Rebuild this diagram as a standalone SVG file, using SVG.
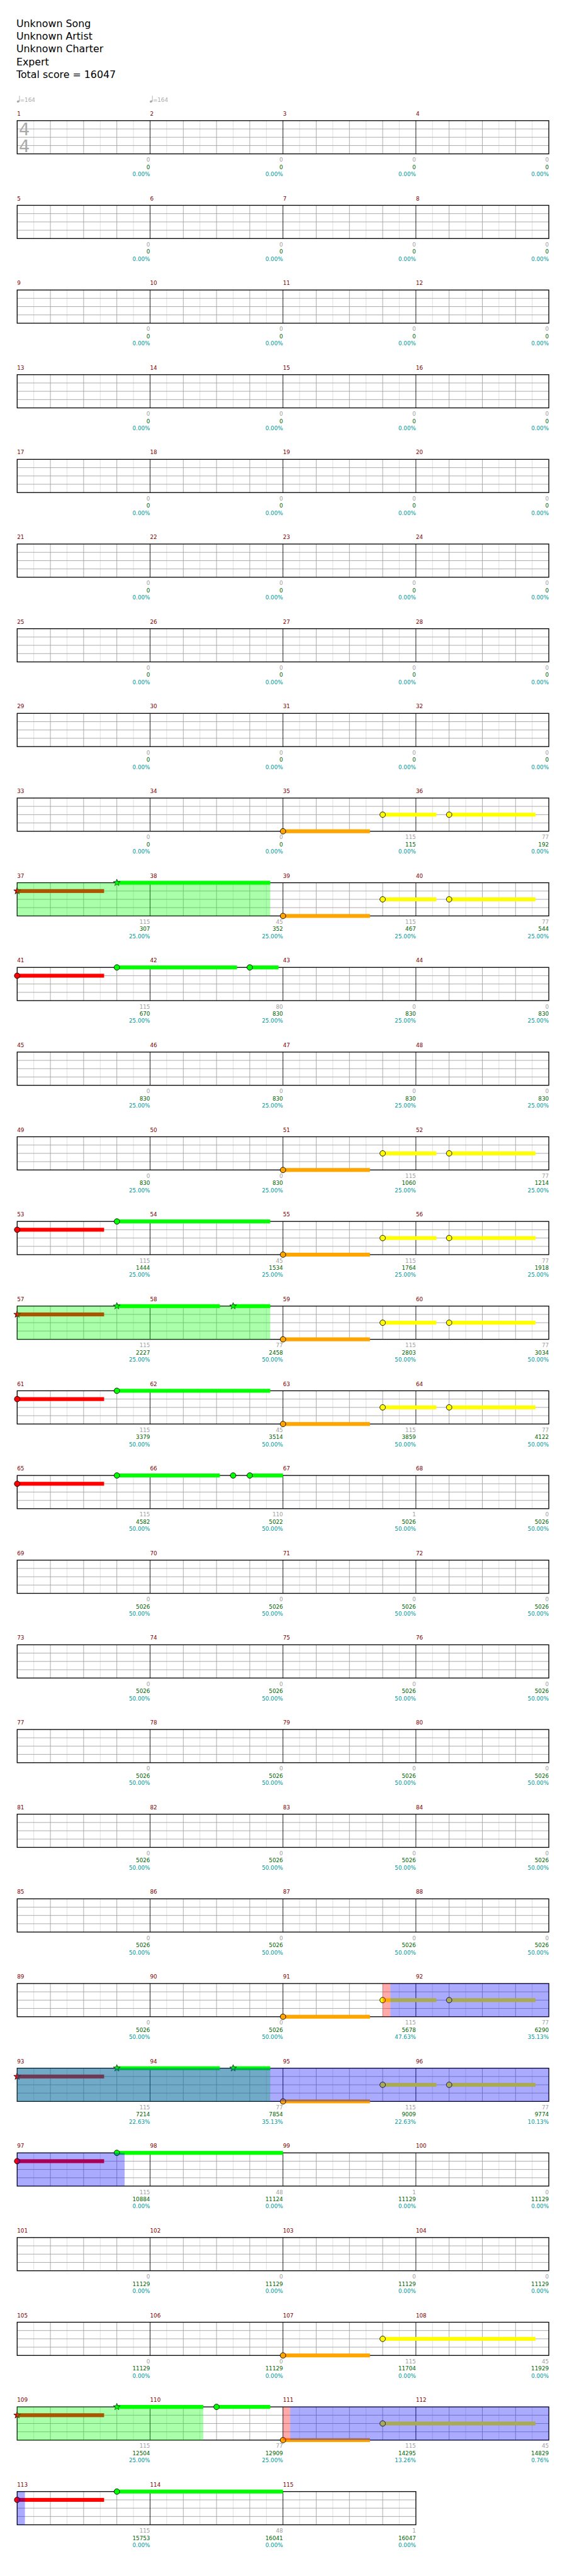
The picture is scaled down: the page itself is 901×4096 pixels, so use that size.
<svg xmlns="http://www.w3.org/2000/svg" width="901" height="4096" viewBox="0 0 901 4096">
<style>
text{font-family:"DejaVu Sans","Liberation Sans",sans-serif}
.t{font-size:18px;fill:#000}
.mn{font-size:10px;fill:#800000}
.tp{font-size:10px;fill:#aaaaaa}
.ts{font-size:31px;fill:#aaaaaa}
.sc{font-size:10px;text-anchor:end}
.a{fill:#a0a0a0}.b{fill:#006400}.c{fill:#009999}
.n{stroke:#000;stroke-width:1}
.g{fill:#00ff00}.r{fill:#ff0000}.y{fill:#ffff00}.o{fill:#ffa500}
.ovg{fill:#00ff00;fill-opacity:.333}.ovb{fill:#0000ff;fill-opacity:.333}.ovr{fill:#ff0000;fill-opacity:.333}
</style>
<defs>
<g id="st4" fill="none">
<path d="M30 0V60M90 0V60M150 0V60M210 0V60M270 0V60M330 0V60M390 0V60M450 0V60M510 0V60M570 0V60M630 0V60M690 0V60M750 0V60M810 0V60M870 0V60M930 0V60" stroke="#dcdcdc"/>
<path d="M0 15H960M0 30H960M0 45H960M60 0V60M120 0V60M180 0V60M300 0V60M360 0V60M420 0V60M540 0V60M600 0V60M660 0V60M780 0V60M840 0V60M900 0V60" stroke="#a0a0a0"/>
<path d="M240 0V60M480 0V60M720 0V60" stroke="#000"/>
<rect width="960" height="60" stroke="#000" stroke-width="1.5"/>
</g>
<g id="st3" fill="none">
<path d="M30 0V60M90 0V60M150 0V60M210 0V60M270 0V60M330 0V60M390 0V60M450 0V60M510 0V60M570 0V60M630 0V60M690 0V60" stroke="#dcdcdc"/>
<path d="M0 15H720M0 30H720M0 45H720M60 0V60M120 0V60M180 0V60M300 0V60M360 0V60M420 0V60M540 0V60M600 0V60M660 0V60" stroke="#a0a0a0"/>
<path d="M240 0V60M480 0V60" stroke="#000"/>
<rect width="720" height="60" stroke="#000" stroke-width="1.5"/>
</g>
<polygon id="star" points="0,-6.5 1.53,-2.1 6.18,-2.01 2.47,0.8 3.82,5.26 0,2.6 -3.82,5.26 -2.47,0.8 -6.18,-2.01 -1.53,-2.1" stroke="#000" stroke-width="0.8"/>
</defs>
<rect width="901" height="4096" fill="#fff"/>
<g transform="scale(0.88)">
<g id="header">
<text class="t" x="29.5" y="48.7">Unknown Song</text>
<text class="t" x="29.5" y="71.7">Unknown Artist</text>
<text class="t" x="29.5" y="94.7">Unknown Charter</text>
<text class="t" x="29.5" y="117.7">Expert</text>
<text class="t" x="29.5" y="140.7">Total score = 16047</text>
</g>

<g id="row1" transform="translate(0,218)">
<g id="tempo1"><ellipse cx="32.8" cy="-34.7" rx="2.6" ry="1.9" fill="#aaa" transform="rotate(-20 32.8 -34.7)"/><path d="M35.2 -45V-35" stroke="#aaa"/><text class="tp" x="36" y="-34">=164</text></g>
<g id="tempo2"><ellipse cx="272.8" cy="-34.7" rx="2.6" ry="1.9" fill="#aaa" transform="rotate(-20 272.8 -34.7)"/><path d="M275.2 -45V-35" stroke="#aaa"/><text class="tp" x="276" y="-34">=164</text></g>
<text class="mn" x="31" y="-9">1</text><text class="mn" x="271" y="-9">2</text><text class="mn" x="511" y="-9">3</text><text class="mn" x="751" y="-9">4</text>
<use href="#st4" x="31"/>
<text class="ts" x="34" y="26">4</text><text class="ts" x="34" y="56.7">4</text>
<text class="sc" x="271"><tspan class="a" y="74.3">0</tspan><tspan class="b" x="271" y="87.3">0</tspan><tspan class="c" x="271" y="100.3">0.00%</tspan></text>
<text class="sc" x="511"><tspan class="a" y="74.3">0</tspan><tspan class="b" x="511" y="87.3">0</tspan><tspan class="c" x="511" y="100.3">0.00%</tspan></text>
<text class="sc" x="751"><tspan class="a" y="74.3">0</tspan><tspan class="b" x="751" y="87.3">0</tspan><tspan class="c" x="751" y="100.3">0.00%</tspan></text>
<text class="sc" x="991"><tspan class="a" y="74.3">0</tspan><tspan class="b" x="991" y="87.3">0</tspan><tspan class="c" x="991" y="100.3">0.00%</tspan></text>
</g>

<g id="row2" transform="translate(0,371)">
<text class="mn" x="31" y="-9">5</text><text class="mn" x="271" y="-9">6</text><text class="mn" x="511" y="-9">7</text><text class="mn" x="751" y="-9">8</text>
<use href="#st4" x="31"/>
<text class="sc" x="271"><tspan class="a" y="74.3">0</tspan><tspan class="b" x="271" y="87.3">0</tspan><tspan class="c" x="271" y="100.3">0.00%</tspan></text>
<text class="sc" x="511"><tspan class="a" y="74.3">0</tspan><tspan class="b" x="511" y="87.3">0</tspan><tspan class="c" x="511" y="100.3">0.00%</tspan></text>
<text class="sc" x="751"><tspan class="a" y="74.3">0</tspan><tspan class="b" x="751" y="87.3">0</tspan><tspan class="c" x="751" y="100.3">0.00%</tspan></text>
<text class="sc" x="991"><tspan class="a" y="74.3">0</tspan><tspan class="b" x="991" y="87.3">0</tspan><tspan class="c" x="991" y="100.3">0.00%</tspan></text>
</g>

<g id="row3" transform="translate(0,524)">
<text class="mn" x="31" y="-9">9</text><text class="mn" x="271" y="-9">10</text><text class="mn" x="511" y="-9">11</text><text class="mn" x="751" y="-9">12</text>
<use href="#st4" x="31"/>
<text class="sc" x="271"><tspan class="a" y="74.3">0</tspan><tspan class="b" x="271" y="87.3">0</tspan><tspan class="c" x="271" y="100.3">0.00%</tspan></text>
<text class="sc" x="511"><tspan class="a" y="74.3">0</tspan><tspan class="b" x="511" y="87.3">0</tspan><tspan class="c" x="511" y="100.3">0.00%</tspan></text>
<text class="sc" x="751"><tspan class="a" y="74.3">0</tspan><tspan class="b" x="751" y="87.3">0</tspan><tspan class="c" x="751" y="100.3">0.00%</tspan></text>
<text class="sc" x="991"><tspan class="a" y="74.3">0</tspan><tspan class="b" x="991" y="87.3">0</tspan><tspan class="c" x="991" y="100.3">0.00%</tspan></text>
</g>

<g id="row4" transform="translate(0,677)">
<text class="mn" x="31" y="-9">13</text><text class="mn" x="271" y="-9">14</text><text class="mn" x="511" y="-9">15</text><text class="mn" x="751" y="-9">16</text>
<use href="#st4" x="31"/>
<text class="sc" x="271"><tspan class="a" y="74.3">0</tspan><tspan class="b" x="271" y="87.3">0</tspan><tspan class="c" x="271" y="100.3">0.00%</tspan></text>
<text class="sc" x="511"><tspan class="a" y="74.3">0</tspan><tspan class="b" x="511" y="87.3">0</tspan><tspan class="c" x="511" y="100.3">0.00%</tspan></text>
<text class="sc" x="751"><tspan class="a" y="74.3">0</tspan><tspan class="b" x="751" y="87.3">0</tspan><tspan class="c" x="751" y="100.3">0.00%</tspan></text>
<text class="sc" x="991"><tspan class="a" y="74.3">0</tspan><tspan class="b" x="991" y="87.3">0</tspan><tspan class="c" x="991" y="100.3">0.00%</tspan></text>
</g>

<g id="row5" transform="translate(0,830)">
<text class="mn" x="31" y="-9">17</text><text class="mn" x="271" y="-9">18</text><text class="mn" x="511" y="-9">19</text><text class="mn" x="751" y="-9">20</text>
<use href="#st4" x="31"/>
<text class="sc" x="271"><tspan class="a" y="74.3">0</tspan><tspan class="b" x="271" y="87.3">0</tspan><tspan class="c" x="271" y="100.3">0.00%</tspan></text>
<text class="sc" x="511"><tspan class="a" y="74.3">0</tspan><tspan class="b" x="511" y="87.3">0</tspan><tspan class="c" x="511" y="100.3">0.00%</tspan></text>
<text class="sc" x="751"><tspan class="a" y="74.3">0</tspan><tspan class="b" x="751" y="87.3">0</tspan><tspan class="c" x="751" y="100.3">0.00%</tspan></text>
<text class="sc" x="991"><tspan class="a" y="74.3">0</tspan><tspan class="b" x="991" y="87.3">0</tspan><tspan class="c" x="991" y="100.3">0.00%</tspan></text>
</g>

<g id="row6" transform="translate(0,983)">
<text class="mn" x="31" y="-9">21</text><text class="mn" x="271" y="-9">22</text><text class="mn" x="511" y="-9">23</text><text class="mn" x="751" y="-9">24</text>
<use href="#st4" x="31"/>
<text class="sc" x="271"><tspan class="a" y="74.3">0</tspan><tspan class="b" x="271" y="87.3">0</tspan><tspan class="c" x="271" y="100.3">0.00%</tspan></text>
<text class="sc" x="511"><tspan class="a" y="74.3">0</tspan><tspan class="b" x="511" y="87.3">0</tspan><tspan class="c" x="511" y="100.3">0.00%</tspan></text>
<text class="sc" x="751"><tspan class="a" y="74.3">0</tspan><tspan class="b" x="751" y="87.3">0</tspan><tspan class="c" x="751" y="100.3">0.00%</tspan></text>
<text class="sc" x="991"><tspan class="a" y="74.3">0</tspan><tspan class="b" x="991" y="87.3">0</tspan><tspan class="c" x="991" y="100.3">0.00%</tspan></text>
</g>

<g id="row7" transform="translate(0,1136)">
<text class="mn" x="31" y="-9">25</text><text class="mn" x="271" y="-9">26</text><text class="mn" x="511" y="-9">27</text><text class="mn" x="751" y="-9">28</text>
<use href="#st4" x="31"/>
<text class="sc" x="271"><tspan class="a" y="74.3">0</tspan><tspan class="b" x="271" y="87.3">0</tspan><tspan class="c" x="271" y="100.3">0.00%</tspan></text>
<text class="sc" x="511"><tspan class="a" y="74.3">0</tspan><tspan class="b" x="511" y="87.3">0</tspan><tspan class="c" x="511" y="100.3">0.00%</tspan></text>
<text class="sc" x="751"><tspan class="a" y="74.3">0</tspan><tspan class="b" x="751" y="87.3">0</tspan><tspan class="c" x="751" y="100.3">0.00%</tspan></text>
<text class="sc" x="991"><tspan class="a" y="74.3">0</tspan><tspan class="b" x="991" y="87.3">0</tspan><tspan class="c" x="991" y="100.3">0.00%</tspan></text>
</g>

<g id="row8" transform="translate(0,1289)">
<text class="mn" x="31" y="-9">29</text><text class="mn" x="271" y="-9">30</text><text class="mn" x="511" y="-9">31</text><text class="mn" x="751" y="-9">32</text>
<use href="#st4" x="31"/>
<text class="sc" x="271"><tspan class="a" y="74.3">0</tspan><tspan class="b" x="271" y="87.3">0</tspan><tspan class="c" x="271" y="100.3">0.00%</tspan></text>
<text class="sc" x="511"><tspan class="a" y="74.3">0</tspan><tspan class="b" x="511" y="87.3">0</tspan><tspan class="c" x="511" y="100.3">0.00%</tspan></text>
<text class="sc" x="751"><tspan class="a" y="74.3">0</tspan><tspan class="b" x="751" y="87.3">0</tspan><tspan class="c" x="751" y="100.3">0.00%</tspan></text>
<text class="sc" x="991"><tspan class="a" y="74.3">0</tspan><tspan class="b" x="991" y="87.3">0</tspan><tspan class="c" x="991" y="100.3">0.00%</tspan></text>
</g>

<g id="row9" transform="translate(0,1442)">
<text class="mn" x="31" y="-9">33</text><text class="mn" x="271" y="-9">34</text><text class="mn" x="511" y="-9">35</text><text class="mn" x="751" y="-9">36</text>
<use href="#st4" x="31"/>
<rect class="o" x="511" y="56.5" width="157" height="7"/><rect class="y" x="691" y="26.5" width="97" height="7"/><rect class="y" x="811" y="26.5" width="156" height="7"/>
<circle class="n o" cx="511" cy="60" r="5"/><circle class="n y" cx="691" cy="30" r="5"/><circle class="n y" cx="811" cy="30" r="5"/>
<text class="sc" x="271"><tspan class="a" y="74.3">0</tspan><tspan class="b" x="271" y="87.3">0</tspan><tspan class="c" x="271" y="100.3">0.00%</tspan></text>
<text class="sc" x="511"><tspan class="a" y="74.3">0</tspan><tspan class="b" x="511" y="87.3">0</tspan><tspan class="c" x="511" y="100.3">0.00%</tspan></text>
<text class="sc" x="751"><tspan class="a" y="74.3">115</tspan><tspan class="b" x="751" y="87.3">115</tspan><tspan class="c" x="751" y="100.3">0.00%</tspan></text>
<text class="sc" x="991"><tspan class="a" y="74.3">77</tspan><tspan class="b" x="991" y="87.3">192</tspan><tspan class="c" x="991" y="100.3">0.00%</tspan></text>
</g>

<g id="row10" transform="translate(0,1595)">
<text class="mn" x="31" y="-9">37</text><text class="mn" x="271" y="-9">38</text><text class="mn" x="511" y="-9">39</text><text class="mn" x="751" y="-9">40</text>
<use href="#st4" x="31"/>
<rect class="r" x="31" y="11.5" width="157" height="7"/><rect class="g" x="211" y="-3.5" width="277" height="7"/>
<use href="#star" class="r" x="31" y="15"/><use href="#star" class="g" x="211" y="0"/>
<rect class="o" x="511" y="56.5" width="157" height="7"/><rect class="y" x="691" y="26.5" width="97" height="7"/><rect class="y" x="811" y="26.5" width="156" height="7"/>
<circle class="n o" cx="511" cy="60" r="5"/><circle class="n y" cx="691" cy="30" r="5"/><circle class="n y" cx="811" cy="30" r="5"/>
<rect class="ovg" x="31" y="0" width="457" height="60"/>
<text class="sc" x="271"><tspan class="a" y="74.3">115</tspan><tspan class="b" x="271" y="87.3">307</tspan><tspan class="c" x="271" y="100.3">25.00%</tspan></text>
<text class="sc" x="511"><tspan class="a" y="74.3">45</tspan><tspan class="b" x="511" y="87.3">352</tspan><tspan class="c" x="511" y="100.3">25.00%</tspan></text>
<text class="sc" x="751"><tspan class="a" y="74.3">115</tspan><tspan class="b" x="751" y="87.3">467</tspan><tspan class="c" x="751" y="100.3">25.00%</tspan></text>
<text class="sc" x="991"><tspan class="a" y="74.3">77</tspan><tspan class="b" x="991" y="87.3">544</tspan><tspan class="c" x="991" y="100.3">25.00%</tspan></text>
</g>

<g id="row11" transform="translate(0,1748)">
<text class="mn" x="31" y="-9">41</text><text class="mn" x="271" y="-9">42</text><text class="mn" x="511" y="-9">43</text><text class="mn" x="751" y="-9">44</text>
<use href="#st4" x="31"/>
<rect class="r" x="31" y="11.5" width="157" height="7"/><rect class="g" x="211" y="-3.5" width="217" height="7"/><rect class="g" x="451" y="-3.5" width="52" height="7"/>
<circle class="n r" cx="31" cy="15" r="5"/><circle class="n g" cx="211" cy="0" r="5"/><circle class="n g" cx="451" cy="0" r="5"/>
<text class="sc" x="271"><tspan class="a" y="74.3">115</tspan><tspan class="b" x="271" y="87.3">670</tspan><tspan class="c" x="271" y="100.3">25.00%</tspan></text>
<text class="sc" x="511"><tspan class="a" y="74.3">80</tspan><tspan class="b" x="511" y="87.3">830</tspan><tspan class="c" x="511" y="100.3">25.00%</tspan></text>
<text class="sc" x="751"><tspan class="a" y="74.3">0</tspan><tspan class="b" x="751" y="87.3">830</tspan><tspan class="c" x="751" y="100.3">25.00%</tspan></text>
<text class="sc" x="991"><tspan class="a" y="74.3">0</tspan><tspan class="b" x="991" y="87.3">830</tspan><tspan class="c" x="991" y="100.3">25.00%</tspan></text>
</g>

<g id="row12" transform="translate(0,1901)">
<text class="mn" x="31" y="-9">45</text><text class="mn" x="271" y="-9">46</text><text class="mn" x="511" y="-9">47</text><text class="mn" x="751" y="-9">48</text>
<use href="#st4" x="31"/>
<text class="sc" x="271"><tspan class="a" y="74.3">0</tspan><tspan class="b" x="271" y="87.3">830</tspan><tspan class="c" x="271" y="100.3">25.00%</tspan></text>
<text class="sc" x="511"><tspan class="a" y="74.3">0</tspan><tspan class="b" x="511" y="87.3">830</tspan><tspan class="c" x="511" y="100.3">25.00%</tspan></text>
<text class="sc" x="751"><tspan class="a" y="74.3">0</tspan><tspan class="b" x="751" y="87.3">830</tspan><tspan class="c" x="751" y="100.3">25.00%</tspan></text>
<text class="sc" x="991"><tspan class="a" y="74.3">0</tspan><tspan class="b" x="991" y="87.3">830</tspan><tspan class="c" x="991" y="100.3">25.00%</tspan></text>
</g>

<g id="row13" transform="translate(0,2054)">
<text class="mn" x="31" y="-9">49</text><text class="mn" x="271" y="-9">50</text><text class="mn" x="511" y="-9">51</text><text class="mn" x="751" y="-9">52</text>
<use href="#st4" x="31"/>
<rect class="o" x="511" y="56.5" width="157" height="7"/><rect class="y" x="691" y="26.5" width="97" height="7"/><rect class="y" x="811" y="26.5" width="156" height="7"/>
<circle class="n o" cx="511" cy="60" r="5"/><circle class="n y" cx="691" cy="30" r="5"/><circle class="n y" cx="811" cy="30" r="5"/>
<text class="sc" x="271"><tspan class="a" y="74.3">0</tspan><tspan class="b" x="271" y="87.3">830</tspan><tspan class="c" x="271" y="100.3">25.00%</tspan></text>
<text class="sc" x="511"><tspan class="a" y="74.3">0</tspan><tspan class="b" x="511" y="87.3">830</tspan><tspan class="c" x="511" y="100.3">25.00%</tspan></text>
<text class="sc" x="751"><tspan class="a" y="74.3">115</tspan><tspan class="b" x="751" y="87.3">1060</tspan><tspan class="c" x="751" y="100.3">25.00%</tspan></text>
<text class="sc" x="991"><tspan class="a" y="74.3">77</tspan><tspan class="b" x="991" y="87.3">1214</tspan><tspan class="c" x="991" y="100.3">25.00%</tspan></text>
</g>

<g id="row14" transform="translate(0,2207)">
<text class="mn" x="31" y="-9">53</text><text class="mn" x="271" y="-9">54</text><text class="mn" x="511" y="-9">55</text><text class="mn" x="751" y="-9">56</text>
<use href="#st4" x="31"/>
<rect class="r" x="31" y="11.5" width="157" height="7"/><rect class="g" x="211" y="-3.5" width="277" height="7"/>
<circle class="n r" cx="31" cy="15" r="5"/><circle class="n g" cx="211" cy="0" r="5"/>
<rect class="o" x="511" y="56.5" width="157" height="7"/><rect class="y" x="691" y="26.5" width="97" height="7"/><rect class="y" x="811" y="26.5" width="156" height="7"/>
<circle class="n o" cx="511" cy="60" r="5"/><circle class="n y" cx="691" cy="30" r="5"/><circle class="n y" cx="811" cy="30" r="5"/>
<text class="sc" x="271"><tspan class="a" y="74.3">115</tspan><tspan class="b" x="271" y="87.3">1444</tspan><tspan class="c" x="271" y="100.3">25.00%</tspan></text>
<text class="sc" x="511"><tspan class="a" y="74.3">45</tspan><tspan class="b" x="511" y="87.3">1534</tspan><tspan class="c" x="511" y="100.3">25.00%</tspan></text>
<text class="sc" x="751"><tspan class="a" y="74.3">115</tspan><tspan class="b" x="751" y="87.3">1764</tspan><tspan class="c" x="751" y="100.3">25.00%</tspan></text>
<text class="sc" x="991"><tspan class="a" y="74.3">77</tspan><tspan class="b" x="991" y="87.3">1918</tspan><tspan class="c" x="991" y="100.3">25.00%</tspan></text>
</g>

<g id="row15" transform="translate(0,2360)">
<text class="mn" x="31" y="-9">57</text><text class="mn" x="271" y="-9">58</text><text class="mn" x="511" y="-9">59</text><text class="mn" x="751" y="-9">60</text>
<use href="#st4" x="31"/>
<rect class="r" x="31" y="11.5" width="157" height="7"/><rect class="g" x="211" y="-3.5" width="186" height="7"/><rect class="g" x="421" y="-3.5" width="67" height="7"/>
<use href="#star" class="r" x="31" y="15"/><use href="#star" class="g" x="211" y="0"/><use href="#star" class="g" x="421" y="0"/>
<rect class="o" x="511" y="56.5" width="157" height="7"/><rect class="y" x="691" y="26.5" width="97" height="7"/><rect class="y" x="811" y="26.5" width="156" height="7"/>
<circle class="n o" cx="511" cy="60" r="5"/><circle class="n y" cx="691" cy="30" r="5"/><circle class="n y" cx="811" cy="30" r="5"/>
<rect class="ovg" x="31" y="0" width="457" height="60"/>
<text class="sc" x="271"><tspan class="a" y="74.3">115</tspan><tspan class="b" x="271" y="87.3">2227</tspan><tspan class="c" x="271" y="100.3">25.00%</tspan></text>
<text class="sc" x="511"><tspan class="a" y="74.3">77</tspan><tspan class="b" x="511" y="87.3">2458</tspan><tspan class="c" x="511" y="100.3">50.00%</tspan></text>
<text class="sc" x="751"><tspan class="a" y="74.3">115</tspan><tspan class="b" x="751" y="87.3">2803</tspan><tspan class="c" x="751" y="100.3">50.00%</tspan></text>
<text class="sc" x="991"><tspan class="a" y="74.3">77</tspan><tspan class="b" x="991" y="87.3">3034</tspan><tspan class="c" x="991" y="100.3">50.00%</tspan></text>
</g>

<g id="row16" transform="translate(0,2513)">
<text class="mn" x="31" y="-9">61</text><text class="mn" x="271" y="-9">62</text><text class="mn" x="511" y="-9">63</text><text class="mn" x="751" y="-9">64</text>
<use href="#st4" x="31"/>
<rect class="r" x="31" y="11.5" width="157" height="7"/><rect class="g" x="211" y="-3.5" width="277" height="7"/>
<circle class="n r" cx="31" cy="15" r="5"/><circle class="n g" cx="211" cy="0" r="5"/>
<rect class="o" x="511" y="56.5" width="157" height="7"/><rect class="y" x="691" y="26.5" width="97" height="7"/><rect class="y" x="811" y="26.5" width="156" height="7"/>
<circle class="n o" cx="511" cy="60" r="5"/><circle class="n y" cx="691" cy="30" r="5"/><circle class="n y" cx="811" cy="30" r="5"/>
<text class="sc" x="271"><tspan class="a" y="74.3">115</tspan><tspan class="b" x="271" y="87.3">3379</tspan><tspan class="c" x="271" y="100.3">50.00%</tspan></text>
<text class="sc" x="511"><tspan class="a" y="74.3">45</tspan><tspan class="b" x="511" y="87.3">3514</tspan><tspan class="c" x="511" y="100.3">50.00%</tspan></text>
<text class="sc" x="751"><tspan class="a" y="74.3">115</tspan><tspan class="b" x="751" y="87.3">3859</tspan><tspan class="c" x="751" y="100.3">50.00%</tspan></text>
<text class="sc" x="991"><tspan class="a" y="74.3">77</tspan><tspan class="b" x="991" y="87.3">4122</tspan><tspan class="c" x="991" y="100.3">50.00%</tspan></text>
</g>

<g id="row17" transform="translate(0,2666)">
<text class="mn" x="31" y="-9">65</text><text class="mn" x="271" y="-9">66</text><text class="mn" x="511" y="-9">67</text><text class="mn" x="751" y="-9">68</text>
<use href="#st4" x="31"/>
<rect class="r" x="31" y="11.5" width="157" height="7"/><rect class="g" x="211" y="-3.5" width="186" height="7"/><rect class="g" x="451" y="-3.5" width="60" height="7"/>
<circle class="n r" cx="31" cy="15" r="5"/><circle class="n g" cx="211" cy="0" r="5"/><circle class="n g" cx="421" cy="0" r="5"/><circle class="n g" cx="451" cy="0" r="5"/>
<text class="sc" x="271"><tspan class="a" y="74.3">115</tspan><tspan class="b" x="271" y="87.3">4582</tspan><tspan class="c" x="271" y="100.3">50.00%</tspan></text>
<text class="sc" x="511"><tspan class="a" y="74.3">110</tspan><tspan class="b" x="511" y="87.3">5022</tspan><tspan class="c" x="511" y="100.3">50.00%</tspan></text>
<text class="sc" x="751"><tspan class="a" y="74.3">1</tspan><tspan class="b" x="751" y="87.3">5026</tspan><tspan class="c" x="751" y="100.3">50.00%</tspan></text>
<text class="sc" x="991"><tspan class="a" y="74.3">0</tspan><tspan class="b" x="991" y="87.3">5026</tspan><tspan class="c" x="991" y="100.3">50.00%</tspan></text>
</g>

<g id="row18" transform="translate(0,2819)">
<text class="mn" x="31" y="-9">69</text><text class="mn" x="271" y="-9">70</text><text class="mn" x="511" y="-9">71</text><text class="mn" x="751" y="-9">72</text>
<use href="#st4" x="31"/>
<text class="sc" x="271"><tspan class="a" y="74.3">0</tspan><tspan class="b" x="271" y="87.3">5026</tspan><tspan class="c" x="271" y="100.3">50.00%</tspan></text>
<text class="sc" x="511"><tspan class="a" y="74.3">0</tspan><tspan class="b" x="511" y="87.3">5026</tspan><tspan class="c" x="511" y="100.3">50.00%</tspan></text>
<text class="sc" x="751"><tspan class="a" y="74.3">0</tspan><tspan class="b" x="751" y="87.3">5026</tspan><tspan class="c" x="751" y="100.3">50.00%</tspan></text>
<text class="sc" x="991"><tspan class="a" y="74.3">0</tspan><tspan class="b" x="991" y="87.3">5026</tspan><tspan class="c" x="991" y="100.3">50.00%</tspan></text>
</g>

<g id="row19" transform="translate(0,2972)">
<text class="mn" x="31" y="-9">73</text><text class="mn" x="271" y="-9">74</text><text class="mn" x="511" y="-9">75</text><text class="mn" x="751" y="-9">76</text>
<use href="#st4" x="31"/>
<text class="sc" x="271"><tspan class="a" y="74.3">0</tspan><tspan class="b" x="271" y="87.3">5026</tspan><tspan class="c" x="271" y="100.3">50.00%</tspan></text>
<text class="sc" x="511"><tspan class="a" y="74.3">0</tspan><tspan class="b" x="511" y="87.3">5026</tspan><tspan class="c" x="511" y="100.3">50.00%</tspan></text>
<text class="sc" x="751"><tspan class="a" y="74.3">0</tspan><tspan class="b" x="751" y="87.3">5026</tspan><tspan class="c" x="751" y="100.3">50.00%</tspan></text>
<text class="sc" x="991"><tspan class="a" y="74.3">0</tspan><tspan class="b" x="991" y="87.3">5026</tspan><tspan class="c" x="991" y="100.3">50.00%</tspan></text>
</g>

<g id="row20" transform="translate(0,3125)">
<text class="mn" x="31" y="-9">77</text><text class="mn" x="271" y="-9">78</text><text class="mn" x="511" y="-9">79</text><text class="mn" x="751" y="-9">80</text>
<use href="#st4" x="31"/>
<text class="sc" x="271"><tspan class="a" y="74.3">0</tspan><tspan class="b" x="271" y="87.3">5026</tspan><tspan class="c" x="271" y="100.3">50.00%</tspan></text>
<text class="sc" x="511"><tspan class="a" y="74.3">0</tspan><tspan class="b" x="511" y="87.3">5026</tspan><tspan class="c" x="511" y="100.3">50.00%</tspan></text>
<text class="sc" x="751"><tspan class="a" y="74.3">0</tspan><tspan class="b" x="751" y="87.3">5026</tspan><tspan class="c" x="751" y="100.3">50.00%</tspan></text>
<text class="sc" x="991"><tspan class="a" y="74.3">0</tspan><tspan class="b" x="991" y="87.3">5026</tspan><tspan class="c" x="991" y="100.3">50.00%</tspan></text>
</g>

<g id="row21" transform="translate(0,3278)">
<text class="mn" x="31" y="-9">81</text><text class="mn" x="271" y="-9">82</text><text class="mn" x="511" y="-9">83</text><text class="mn" x="751" y="-9">84</text>
<use href="#st4" x="31"/>
<text class="sc" x="271"><tspan class="a" y="74.3">0</tspan><tspan class="b" x="271" y="87.3">5026</tspan><tspan class="c" x="271" y="100.3">50.00%</tspan></text>
<text class="sc" x="511"><tspan class="a" y="74.3">0</tspan><tspan class="b" x="511" y="87.3">5026</tspan><tspan class="c" x="511" y="100.3">50.00%</tspan></text>
<text class="sc" x="751"><tspan class="a" y="74.3">0</tspan><tspan class="b" x="751" y="87.3">5026</tspan><tspan class="c" x="751" y="100.3">50.00%</tspan></text>
<text class="sc" x="991"><tspan class="a" y="74.3">0</tspan><tspan class="b" x="991" y="87.3">5026</tspan><tspan class="c" x="991" y="100.3">50.00%</tspan></text>
</g>

<g id="row22" transform="translate(0,3431)">
<text class="mn" x="31" y="-9">85</text><text class="mn" x="271" y="-9">86</text><text class="mn" x="511" y="-9">87</text><text class="mn" x="751" y="-9">88</text>
<use href="#st4" x="31"/>
<text class="sc" x="271"><tspan class="a" y="74.3">0</tspan><tspan class="b" x="271" y="87.3">5026</tspan><tspan class="c" x="271" y="100.3">50.00%</tspan></text>
<text class="sc" x="511"><tspan class="a" y="74.3">0</tspan><tspan class="b" x="511" y="87.3">5026</tspan><tspan class="c" x="511" y="100.3">50.00%</tspan></text>
<text class="sc" x="751"><tspan class="a" y="74.3">0</tspan><tspan class="b" x="751" y="87.3">5026</tspan><tspan class="c" x="751" y="100.3">50.00%</tspan></text>
<text class="sc" x="991"><tspan class="a" y="74.3">0</tspan><tspan class="b" x="991" y="87.3">5026</tspan><tspan class="c" x="991" y="100.3">50.00%</tspan></text>
</g>

<g id="row23" transform="translate(0,3584)">
<text class="mn" x="31" y="-9">89</text><text class="mn" x="271" y="-9">90</text><text class="mn" x="511" y="-9">91</text><text class="mn" x="751" y="-9">92</text>
<use href="#st4" x="31"/>
<rect class="o" x="511" y="56.5" width="157" height="7"/><rect class="y" x="691" y="26.5" width="97" height="7"/><rect class="y" x="811" y="26.5" width="156" height="7"/>
<circle class="n o" cx="511" cy="60" r="5"/><circle class="n y" cx="691" cy="30" r="5"/><circle class="n y" cx="811" cy="30" r="5"/>
<rect class="ovr" x="691" y="0" width="14" height="60"/><rect class="ovb" x="705" y="0" width="286" height="60"/>
<text class="sc" x="271"><tspan class="a" y="74.3">0</tspan><tspan class="b" x="271" y="87.3">5026</tspan><tspan class="c" x="271" y="100.3">50.00%</tspan></text>
<text class="sc" x="511"><tspan class="a" y="74.3">0</tspan><tspan class="b" x="511" y="87.3">5026</tspan><tspan class="c" x="511" y="100.3">50.00%</tspan></text>
<text class="sc" x="751"><tspan class="a" y="74.3">115</tspan><tspan class="b" x="751" y="87.3">5678</tspan><tspan class="c" x="751" y="100.3">47.63%</tspan></text>
<text class="sc" x="991"><tspan class="a" y="74.3">77</tspan><tspan class="b" x="991" y="87.3">6290</tspan><tspan class="c" x="991" y="100.3">35.13%</tspan></text>
</g>

<g id="row24" transform="translate(0,3737)">
<text class="mn" x="31" y="-9">93</text><text class="mn" x="271" y="-9">94</text><text class="mn" x="511" y="-9">95</text><text class="mn" x="751" y="-9">96</text>
<use href="#st4" x="31"/>
<rect class="r" x="31" y="11.5" width="157" height="7"/><rect class="g" x="211" y="-3.5" width="186" height="7"/><rect class="g" x="421" y="-3.5" width="67" height="7"/>
<use href="#star" class="r" x="31" y="15"/><use href="#star" class="g" x="211" y="0"/><use href="#star" class="g" x="421" y="0"/>
<rect class="o" x="511" y="56.5" width="157" height="7"/><rect class="y" x="691" y="26.5" width="97" height="7"/><rect class="y" x="811" y="26.5" width="156" height="7"/>
<circle class="n o" cx="511" cy="60" r="5"/><circle class="n y" cx="691" cy="30" r="5"/><circle class="n y" cx="811" cy="30" r="5"/>
<rect class="ovg" x="31" y="0" width="457" height="60"/><rect class="ovb" x="31" y="0" width="960" height="60"/>
<text class="sc" x="271"><tspan class="a" y="74.3">115</tspan><tspan class="b" x="271" y="87.3">7214</tspan><tspan class="c" x="271" y="100.3">22.63%</tspan></text>
<text class="sc" x="511"><tspan class="a" y="74.3">77</tspan><tspan class="b" x="511" y="87.3">7854</tspan><tspan class="c" x="511" y="100.3">35.13%</tspan></text>
<text class="sc" x="751"><tspan class="a" y="74.3">115</tspan><tspan class="b" x="751" y="87.3">9009</tspan><tspan class="c" x="751" y="100.3">22.63%</tspan></text>
<text class="sc" x="991"><tspan class="a" y="74.3">77</tspan><tspan class="b" x="991" y="87.3">9774</tspan><tspan class="c" x="991" y="100.3">10.13%</tspan></text>
</g>

<g id="row25" transform="translate(0,3890)">
<text class="mn" x="31" y="-9">97</text><text class="mn" x="271" y="-9">98</text><text class="mn" x="511" y="-9">99</text><text class="mn" x="751" y="-9">100</text>
<use href="#st4" x="31"/>
<rect class="r" x="31" y="11.5" width="157" height="7"/><rect class="g" x="211" y="-3.5" width="300" height="7"/>
<circle class="n r" cx="31" cy="15" r="5"/><circle class="n g" cx="211" cy="0" r="5"/>
<rect class="ovb" x="31" y="0" width="194" height="60"/>
<text class="sc" x="271"><tspan class="a" y="74.3">115</tspan><tspan class="b" x="271" y="87.3">10884</tspan><tspan class="c" x="271" y="100.3">0.00%</tspan></text>
<text class="sc" x="511"><tspan class="a" y="74.3">48</tspan><tspan class="b" x="511" y="87.3">11124</tspan><tspan class="c" x="511" y="100.3">0.00%</tspan></text>
<text class="sc" x="751"><tspan class="a" y="74.3">1</tspan><tspan class="b" x="751" y="87.3">11129</tspan><tspan class="c" x="751" y="100.3">0.00%</tspan></text>
<text class="sc" x="991"><tspan class="a" y="74.3">0</tspan><tspan class="b" x="991" y="87.3">11129</tspan><tspan class="c" x="991" y="100.3">0.00%</tspan></text>
</g>

<g id="row26" transform="translate(0,4043)">
<text class="mn" x="31" y="-9">101</text><text class="mn" x="271" y="-9">102</text><text class="mn" x="511" y="-9">103</text><text class="mn" x="751" y="-9">104</text>
<use href="#st4" x="31"/>
<text class="sc" x="271"><tspan class="a" y="74.3">0</tspan><tspan class="b" x="271" y="87.3">11129</tspan><tspan class="c" x="271" y="100.3">0.00%</tspan></text>
<text class="sc" x="511"><tspan class="a" y="74.3">0</tspan><tspan class="b" x="511" y="87.3">11129</tspan><tspan class="c" x="511" y="100.3">0.00%</tspan></text>
<text class="sc" x="751"><tspan class="a" y="74.3">0</tspan><tspan class="b" x="751" y="87.3">11129</tspan><tspan class="c" x="751" y="100.3">0.00%</tspan></text>
<text class="sc" x="991"><tspan class="a" y="74.3">0</tspan><tspan class="b" x="991" y="87.3">11129</tspan><tspan class="c" x="991" y="100.3">0.00%</tspan></text>
</g>

<g id="row27" transform="translate(0,4196)">
<text class="mn" x="31" y="-9">105</text><text class="mn" x="271" y="-9">106</text><text class="mn" x="511" y="-9">107</text><text class="mn" x="751" y="-9">108</text>
<use href="#st4" x="31"/>
<rect class="o" x="511" y="56.5" width="157" height="7"/><rect class="y" x="691" y="26.5" width="276" height="7"/>
<circle class="n o" cx="511" cy="60" r="5"/><circle class="n y" cx="691" cy="30" r="5"/>
<text class="sc" x="271"><tspan class="a" y="74.3">0</tspan><tspan class="b" x="271" y="87.3">11129</tspan><tspan class="c" x="271" y="100.3">0.00%</tspan></text>
<text class="sc" x="511"><tspan class="a" y="74.3">0</tspan><tspan class="b" x="511" y="87.3">11129</tspan><tspan class="c" x="511" y="100.3">0.00%</tspan></text>
<text class="sc" x="751"><tspan class="a" y="74.3">115</tspan><tspan class="b" x="751" y="87.3">11704</tspan><tspan class="c" x="751" y="100.3">0.00%</tspan></text>
<text class="sc" x="991"><tspan class="a" y="74.3">45</tspan><tspan class="b" x="991" y="87.3">11929</tspan><tspan class="c" x="991" y="100.3">0.00%</tspan></text>
</g>

<g id="row28" transform="translate(0,4349)">
<text class="mn" x="31" y="-9">109</text><text class="mn" x="271" y="-9">110</text><text class="mn" x="511" y="-9">111</text><text class="mn" x="751" y="-9">112</text>
<use href="#st4" x="31"/>
<rect class="r" x="31" y="11.5" width="157" height="7"/><rect class="g" x="211" y="-3.5" width="156" height="7"/><rect class="g" x="391" y="-3.5" width="97" height="7"/>
<use href="#star" class="r" x="31" y="15"/><use href="#star" class="g" x="211" y="0"/><circle class="n g" cx="391" cy="0" r="5"/>
<rect class="o" x="511" y="56.5" width="157" height="7"/><rect class="y" x="691" y="26.5" width="276" height="7"/>
<circle class="n o" cx="511" cy="60" r="5"/><circle class="n y" cx="691" cy="30" r="5"/>
<rect class="ovg" x="31" y="0" width="336" height="60"/><rect class="ovr" x="511" y="0" width="13" height="60"/><rect class="ovb" x="524" y="0" width="467" height="60"/>
<text class="sc" x="271"><tspan class="a" y="74.3">115</tspan><tspan class="b" x="271" y="87.3">12504</tspan><tspan class="c" x="271" y="100.3">25.00%</tspan></text>
<text class="sc" x="511"><tspan class="a" y="74.3">77</tspan><tspan class="b" x="511" y="87.3">12909</tspan><tspan class="c" x="511" y="100.3">25.00%</tspan></text>
<text class="sc" x="751"><tspan class="a" y="74.3">115</tspan><tspan class="b" x="751" y="87.3">14295</tspan><tspan class="c" x="751" y="100.3">13.26%</tspan></text>
<text class="sc" x="991"><tspan class="a" y="74.3">45</tspan><tspan class="b" x="991" y="87.3">14829</tspan><tspan class="c" x="991" y="100.3">0.76%</tspan></text>
</g>

<g id="row29" transform="translate(0,4502)">
<text class="mn" x="31" y="-9">113</text><text class="mn" x="271" y="-9">114</text><text class="mn" x="511" y="-9">115</text>
<use href="#st3" x="31"/>
<rect class="r" x="31" y="11.5" width="157" height="7"/><rect class="g" x="211" y="-3.5" width="300" height="7"/>
<circle class="n r" cx="31" cy="15" r="5"/><circle class="n g" cx="211" cy="0" r="5"/>
<rect class="ovb" x="31" y="0" width="14" height="60"/>
<text class="sc" x="271"><tspan class="a" y="74.3">115</tspan><tspan class="b" x="271" y="87.3">15753</tspan><tspan class="c" x="271" y="100.3">0.00%</tspan></text>
<text class="sc" x="511"><tspan class="a" y="74.3">48</tspan><tspan class="b" x="511" y="87.3">16041</tspan><tspan class="c" x="511" y="100.3">0.00%</tspan></text>
<text class="sc" x="751"><tspan class="a" y="74.3">1</tspan><tspan class="b" x="751" y="87.3">16047</tspan><tspan class="c" x="751" y="100.3">0.00%</tspan></text>
</g>
</g>
</svg>
